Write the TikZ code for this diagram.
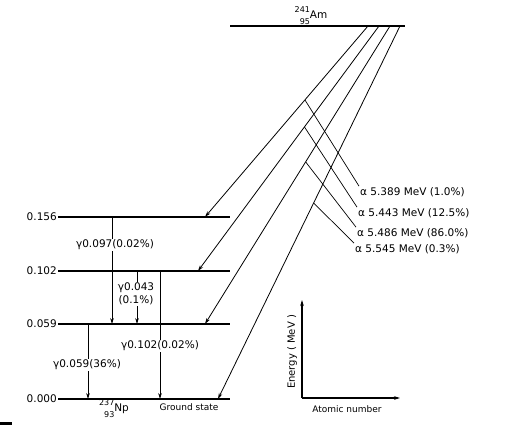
\documentclass[tikz,border=0pt]{standalone}
\usepackage{amsmath}
\usepackage{fontspec}
\setmainfont{DejaVu Sans}
\usetikzlibrary{arrows.meta,positioning,calc}

\newcommand{\nuc}[3]{\begin{tabular}{@{}r@{}}\fontsize{8}{8}\selectfont #1\\[-1pt]\fontsize{8}{8}\selectfont #2\end{tabular}#3}

\begin{document}
\begin{tikzpicture}[
  x=1pt, y=-1pt,
  >={Stealth[length=6pt,width=3.6pt]},
  level/.style={line width=1.5pt},
  decay/.style={->, line width=0.8pt},
  lead/.style={line width=0.7pt},
  axis/.style={->, line width=1.1pt},
  lab/.style={font=\fontsize{10.5}{13}\selectfont, inner sep=1pt},
  slab/.style={font=\fontsize{9}{11}\selectfont, inner sep=1pt},
  glab/.style={lab, fill=white, align=center},
]
\useasboundingbox (0,0) rectangle (509,425);
%% Parent level
\coordinate (am-l) at (230,26);
\coordinate (am-r) at (405,26);
\draw[level] (am-l) -- (am-r);
\node[lab] (am) at (311,16) {\nuc{241}{95}{Am}};
%% Daughter levels
\foreach \e/\y in {156/217,102/271,059/324,000/399}{
  \coordinate (n\e-l) at (58,\y);
  \coordinate (n\e-r) at (230,\y);
  \draw[level] (n\e-l) -- (n\e-r);
  \node[lab, anchor=east] (v\e) at (n\e-l) {0.\e};
}
\node[lab] (np) at (114,409) {\nuc{237}{93}{Np}};
\node[slab] (gs) at (189,407) {Ground state};
%% Alpha branches
\coordinate (t1) at (368,26);
\coordinate (t2) at (379,26);
\coordinate (t3) at (390,26);
\coordinate (t4) at (400,26);
\coordinate (e1) at (205,217);
\coordinate (e2) at (198,271);
\coordinate (e3) at (205,324);
\coordinate (e4) at (218,399);
\draw[decay] (t1) -- coordinate[pos=0.387] (b1) (e1);
\draw[decay] (t2) -- coordinate[pos=0.412] (b2) (e2);
\draw[decay] (t3) -- coordinate[pos=0.456] (b3) (e3);
\draw[decay] (t4) -- coordinate[pos=0.4745] (b4) (e4);
\node[lab, anchor=west] (a1) at (359,192) {α 5.389 MeV (1.0\%)};
\node[lab, anchor=west] (a2) at (357,213) {α 5.443 MeV (12.5\%)};
\node[lab, anchor=west] (a3) at (356,233) {α 5.486 MeV (86.0\%)};
\node[lab, anchor=west] (a4) at (354,249) {α 5.545 MeV (0.3\%)};
\draw[lead] (b1) -- (a1.north west);
\draw[lead] (b2) -- (a2.north west);
\draw[lead] (b3) -- (a3.north west);
\draw[lead] (b4) -- (a4.north west);
%% Gamma transitions
\coordinate (g1s) at (112,217);
\coordinate (g1e) at (112,324);
\coordinate (g2s) at (137,271);
\coordinate (g2e) at (137,324);
\coordinate (g3s) at (160,271);
\coordinate (g3e) at (160,399);
\coordinate (g4s) at (88,324);
\coordinate (g4e) at (88,399);
\draw[decay] (g1s) -- (g1e);
\draw[decay] (g2s) -- (g2e);
\draw[decay] (g3s) -- (g3e);
\draw[decay] (g4s) -- (g4e);
\node[glab] (gl1) at (115,245) {γ0.097(0.02\%)};
\node[glab] (gl2) at (136,294) {γ0.043\\(0.1\%)};
\node[glab] (gl3) at (160,346) {γ0.102(0.02\%)};
\node[glab] (gl4) at (87,365) {γ0.059(36\%)};
%% Axes key
\coordinate (ax-o) at (302,398);
\coordinate (ax-y) at (302,300);
\coordinate (ax-x) at (400,398);
\draw[axis] (ax-o) -- (ax-y);
\draw[axis] (ax-o) -- (ax-x);
\node[slab, rotate=90, font=\fontsize{10}{12}\selectfont] (en) at (292,352) {Energy ( MeV )};
\node[slab] (an) at (347,409) {Atomic number};
\fill (0,422) rectangle (12,425);
\end{tikzpicture}
\end{document}
